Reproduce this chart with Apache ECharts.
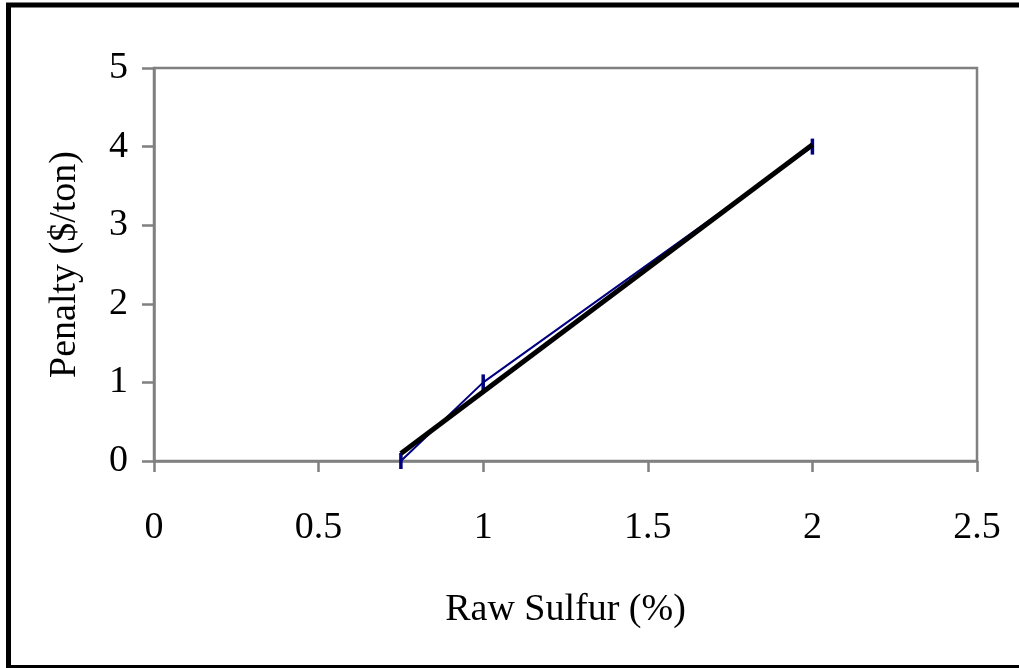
<!DOCTYPE html>
<html>
<head>
<meta charset="utf-8">
<script src="https://cdn.jsdelivr.net/npm/echarts@6/dist/echarts.min.js"></script>
<style>
html,body{margin:0;padding:0;background:#fff;overflow:hidden;}
#chart{width:1019px;height:668px;}
</style>
</head>
<body>
<div id="chart"></div>
<script>
// Data
var sulfurX = [0.75, 1, 2];
var penaltyY = [0, 1, 4];
var trendX = [0.75, 2];
var trendY = [0.095, 4.024];
var xTicks = {min: 0, max: 2.5, interval: 0.5};
var yTicks = {min: 0, max: 5, interval: 1};
var xTitle = 'Raw Sulfur (%)';
var yTitle = 'Penalty ($/ton)';

var font = 'Liberation Serif, Times New Roman, serif';
var gray = '#808080';

var chart = echarts.init(document.getElementById('chart'));
chart.setOption({
  animation: false,
  backgroundColor: '#fff',
  grid: {left: 154, right: 42, top: 68, bottom: 207, show: true, borderColor: gray, borderWidth: 2.5, backgroundColor: 'transparent'},
  xAxis: {
    type: 'value', min: xTicks.min, max: xTicks.max, interval: xTicks.interval,
    name: xTitle, nameLocation: 'middle', nameGap: 130,
    nameTextStyle: {fontFamily: font, fontSize: 38, color: '#000'},
    axisLine: {show: true, onZero: false, lineStyle: {color: gray, width: 2.5}},
    axisTick: {show: true, length: 11, lineStyle: {color: gray, width: 2.5}},
    axisLabel: {fontFamily: font, fontSize: 38, color: '#000', margin: 48},
    splitLine: {show: false}
  },
  yAxis: {
    type: 'value', min: yTicks.min, max: yTicks.max, interval: yTicks.interval,
    name: yTitle, nameLocation: 'middle', nameGap: 70, nameRotate: 90,
    nameTextStyle: {fontFamily: font, fontSize: 38, color: '#000'},
    axisLine: {show: true, lineStyle: {color: gray, width: 2.5}},
    axisTick: {show: true, length: 12, lineStyle: {color: gray, width: 2.5}},
    axisLabel: {fontFamily: font, fontSize: 38, color: '#000', margin: 26},
    splitLine: {show: false}
  },
  graphic: [
    {type: 'line', silent: true, z: 100, shape: {x1: 6, y1: 5, x2: 1019, y2: 5}, style: {stroke: '#000', lineWidth: 5}},
    {type: 'line', silent: true, z: 100, shape: {x1: 8.5, y1: 3, x2: 8.5, y2: 668}, style: {stroke: '#000', lineWidth: 5}},
    {type: 'line', silent: true, z: 100, shape: {x1: 6, y1: 666.5, x2: 1019, y2: 666.5}, style: {stroke: '#000', lineWidth: 3}}
  ],
  series: [{
    type: 'line',
    data: sulfurX.map(function(x, i){ return [x, penaltyY[i]]; }),
    lineStyle: {color: '#000080', width: 2},
    itemStyle: {color: '#000080'},
    symbol: 'rect', symbolSize: [3.5, 16], showSymbol: true,
    z: 2
  }, {
    type: 'line',
    data: trendX.map(function(x, i){ return [x, trendY[i]]; }),
    lineStyle: {color: '#000', width: 5},
    showSymbol: false, symbol: 'none',
    z: 3
  }]
});
</script>
</body>
</html>
